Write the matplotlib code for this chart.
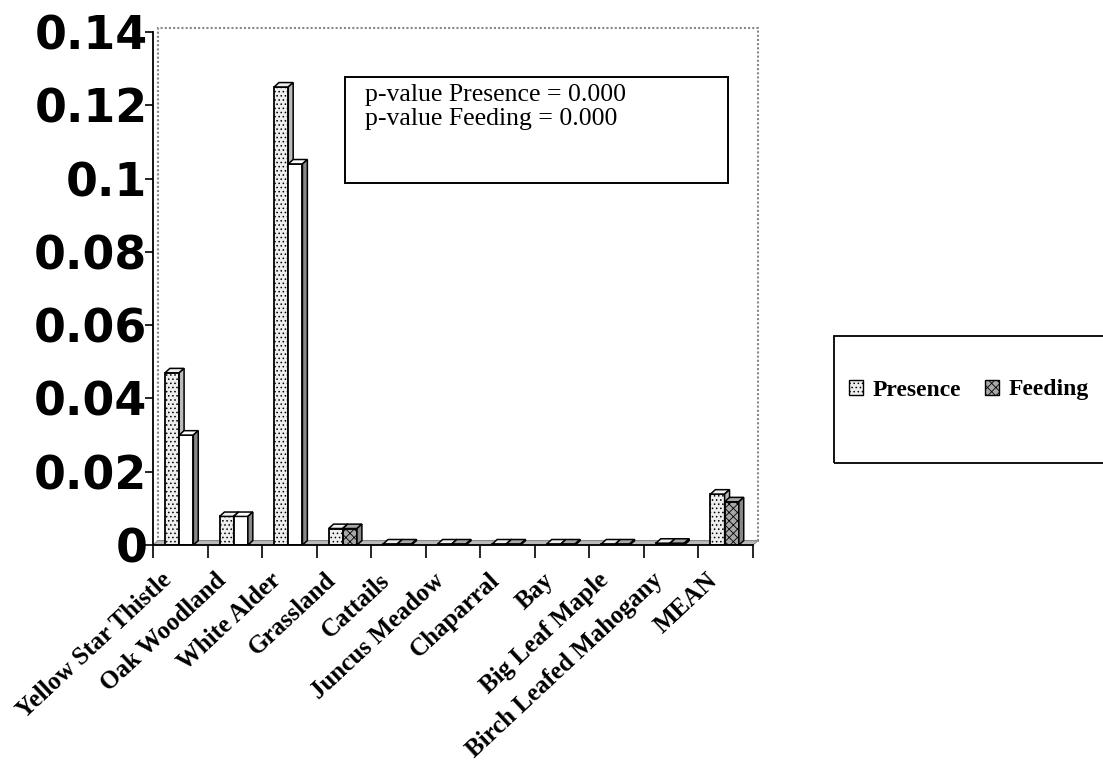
import matplotlib
matplotlib.use("Agg")
import matplotlib.pyplot as plt
from matplotlib.patches import Rectangle, Polygon, Patch

categories = ["Yellow Star Thistle", "Oak Woodland", "White Alder", "Grassland",
              "Cattails", "Juncus Meadow", "Chaparral", "Bay", "Big Leaf Maple",
              "Birch Leafed Mahogany", "MEAN"]
presence = [0.047, 0.0078, 0.125, 0.0045, 0.0003, 0.0003, 0.0003, 0.0003, 0.0003, 0.0005, 0.0139]
feeding = [0.030, 0.0078, 0.104, 0.0045, 0.0003, 0.0003, 0.0003, 0.0003, 0.0003, 0.0005, 0.0118]
y_ticks = [0, 0.02, 0.04, 0.06, 0.08, 0.1, 0.12, 0.14]
y_tick_labels = ["0", "0.02", "0.04", "0.06", "0.08", "0.1", "0.12", "0.14"]
stats_text = "p-value Presence = 0.000\np-value Feeding = 0.000"

SERIF = "Liberation Serif"
BAR_W = 0.26
DX, DY = 0.09, 0.0012   # fake 3D depth
LABEL_SHIFT = 0.36      # category labels sit left of the slot centre


def draw_bar(ax, x0, h, face, side, hatch, z):
    ax.add_patch(Rectangle((x0, 0), BAR_W, h, facecolor=face, edgecolor="black",
                           hatch=hatch, lw=1.3, zorder=z))
    ax.add_patch(Polygon([(x0, h), (x0 + DX, h + DY), (x0 + BAR_W + DX, h + DY), (x0 + BAR_W, h)],
                         closed=True, facecolor=face, edgecolor="black", lw=1.1, zorder=z))
    ax.add_patch(Polygon([(x0 + BAR_W, 0), (x0 + BAR_W + DX, DY), (x0 + BAR_W + DX, h + DY), (x0 + BAR_W, h)],
                         closed=True, facecolor=side, edgecolor="black", lw=1.1, zorder=z))


plt.rcParams["hatch.color"] = "#777777"
plt.rcParams["hatch.linewidth"] = 0.6

fig = plt.figure(figsize=(11.03, 7.63), dpi=100)
ax = fig.add_axes([153 / 1103, 1 - 545 / 763, 600 / 1103, 513 / 763])
ax.set_xlim(-0.5, len(categories) - 0.5)
ax.set_ylim(0, 0.14)

# back wall + floor
ax.add_patch(Rectangle((-0.5 + DX, DY), len(categories), 0.14, fill=False,
                       edgecolor="#888888", lw=1.5, ls=(0, (1, 1)), clip_on=False, zorder=0))
ax.add_patch(Polygon([(-0.5, 0), (-0.5 + DX, DY), (len(categories) - 0.5 + DX, DY), (len(categories) - 0.5, 0)],
                     closed=True, facecolor="#bbbbbb", edgecolor="#888888", lw=0.8, clip_on=False, zorder=0.5))

for i, (p, f) in enumerate(zip(presence, feeding)):
    feed_face = "white" if i < 3 else "#a8a8a8"
    draw_bar(ax, i - 0.28, p, "#eeeeee", "#bbbbbb", "....", 2 + i * 0.01)
    draw_bar(ax, i - 0.28 + BAR_W, f, feed_face, "#888888", "" if i < 3 else "xxxx", 2.005 + i * 0.01)

for s in ["top", "right"]:
    ax.spines[s].set_visible(False)
ax.spines["left"].set_linewidth(1.3)
ax.spines["bottom"].set_linewidth(1.3)

ax.set_yticks(y_ticks)
ax.set_yticklabels(y_tick_labels, fontsize=33, fontweight="bold", family="DejaVu Sans")
ax.tick_params(axis="y", length=6, width=1.2, pad=-2)

ax.set_xticks([i - LABEL_SHIFT for i in range(len(categories))])
ax.set_xticklabels(categories, rotation=43, ha="right", va="top", rotation_mode="anchor",
                   fontsize=18, fontweight="bold", family=SERIF)
ax.set_xticks([i - 0.5 for i in range(len(categories) + 1)], minor=True)
ax.tick_params(axis="x", which="major", length=0, pad=17)
ax.tick_params(axis="x", which="minor", length=9, width=1.2)

# stats box
fig.patches.append(Rectangle((345 / 1103, 1 - 183 / 763), 383 / 1103, 106 / 763, transform=fig.transFigure,
                             fill=False, edgecolor="black", lw=1.4))
fig.text(365 / 1103, 1 - 84 / 763, stats_text, ha="left", va="top", fontsize=18.5,
         family=SERIF, linespacing=1.12)

# legend box
fig.patches.append(Rectangle((834 / 1103, 1 - 463 / 763), 300 / 1103, 127 / 763, transform=fig.transFigure,
                             fill=False, edgecolor="black", lw=1.3))
handles = [Patch(facecolor="#eeeeee", edgecolor="black", hatch="...."),
           Patch(facecolor="#a8a8a8", edgecolor="black", hatch="xxxx")]
fig.legend(handles, ["Presence", "Feeding"], loc="center left", bbox_to_anchor=(828 / 1103, 1 - 390 / 763),
           ncol=2, frameon=False, handlelength=0.6, handleheight=0.6, handletextpad=0.4,
           columnspacing=1.0, prop={"family": SERIF, "weight": "bold", "size": 17})

fig.savefig("out.png", dpi=100)
